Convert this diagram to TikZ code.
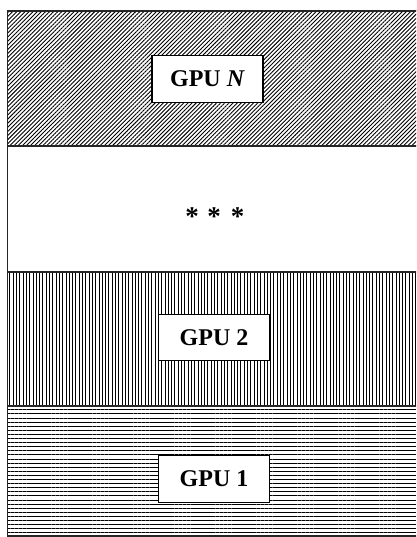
\documentclass[tikz,border=0pt]{standalone}
\usepackage{fontspec}
\setmainfont{Liberation Serif}
\usetikzlibrary{patterns.meta}
\begin{document}
\begin{tikzpicture}[x=1pt,y=-1pt,
  frame/.style={line width=1.3pt,draw=black!85},
  gpubox/.style={draw=black,line width=1.1pt,fill=white,inner sep=0pt,
    minimum width=111pt,minimum height=46.5pt,
    font=\fontsize{24}{28}\selectfont\bfseries},
  star/.style={anchor=base,inner sep=0pt,font=\fontsize{27}{30}\selectfont\bfseries},
  diag/.style={pattern={Lines[angle=45,distance=2.9pt,line width=0.9pt]}},
  vert/.style={pattern={Lines[angle=90,distance=3.3pt,line width=0.9pt]}},
  horiz/.style={pattern={Lines[angle=0,distance=4.1pt,line width=1pt]}}]
\useasboundingbox (0,0) rectangle (416,537);
\clip (0,0) rectangle (416,537);
\fill[white] (0,0) rectangle (416,537);
% coordinates of the bands
\coordinate (a0) at (7.5,11);
\coordinate (a1) at (7.5,146);
\coordinate (a2) at (7.5,272);
\coordinate (a3) at (7.5,406);
\coordinate (a4) at (7.5,536);
\coordinate (b0) at (440,11);
\coordinate (b1) at (440,146);
\coordinate (b2) at (440,272);
\coordinate (b3) at (440,406);
\coordinate (b4) at (440,536);
% hatched bands
\path[diag] (a0) rectangle (b1);
\path[vert] (a2) rectangle (b3);
\path[horiz] (a3) rectangle (b4);
% frame and dividers
\draw[frame] (b0) -- (a0) -- (a4) -- (b4);
\draw[frame] (a1) -- (b1);
\draw[frame] (a2) -- (b2);
\draw[frame] (a3) -- (b3);
% labels
\node[gpubox] (gpuN) at (207.5,79) {GPU \textit{N}};
\node[gpubox] (gpu2) at (214,337.5) {GPU 2};
\node[gpubox,minimum height=47.3pt] (gpu1) at (214,478.7) {GPU 1};
\node[star] (s1) at (192,225) {*};
\node[star] (s2) at (214,225) {*};
\node[star] (s3) at (237.5,225) {*};
\end{tikzpicture}
\end{document}
